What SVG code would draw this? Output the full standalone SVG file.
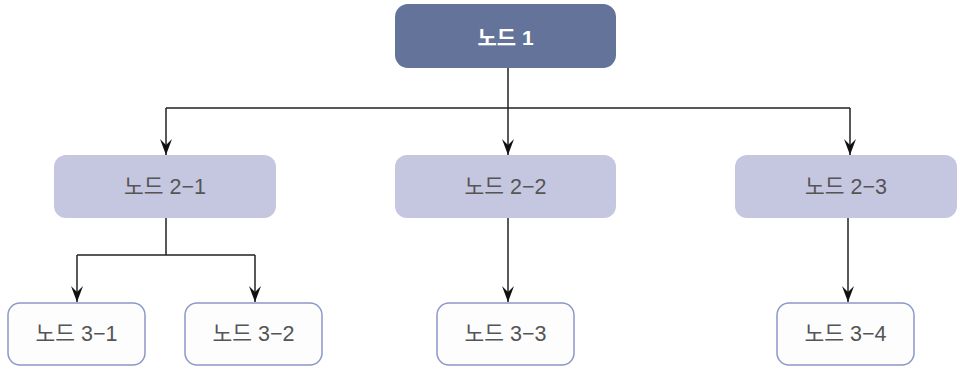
<svg xmlns="http://www.w3.org/2000/svg" width="975" height="372" viewBox="0 0 975 372">
<style>
text{font-family:"Liberation Sans","Noto Sans CJK KR",sans-serif;text-anchor:middle;dominant-baseline:central}
.l1{fill:#647399}
.l1 text{fill:#fff;font-size:21px;font-weight:bold}
.l2{fill:#c5c7e1}
.l2 text{fill:#555;font-size:21.5px}
.l3 rect{fill:#fdfdfd;stroke:#8c98c8;stroke-width:1.5}
.l3 text{fill:#555;font-size:21.5px}
.c{fill:none;stroke:#222;stroke-width:1.5}
</style>
<defs>
<marker id="arrow" viewBox="0 0 16 12" refX="16" refY="6" markerWidth="16" markerHeight="12" markerUnits="userSpaceOnUse" orient="auto">
<path d="M0,0 L16,6 L0,12 L6,6 Z" fill="#111"/>
</marker>
</defs>
<rect width="975" height="372" fill="#fff"/>
<g id="connectors">
<path class="c" d="M508,68 V108 M166,108 H850"/>
<path class="c" d="M166,108 V155" marker-end="url(#arrow)"/>
<path class="c" d="M508,108 V155" marker-end="url(#arrow)"/>
<path class="c" d="M850,108 V155" marker-end="url(#arrow)"/>
<path class="c" d="M166,218 V255 M77,255 H255"/>
<path class="c" d="M77,255 V302" marker-end="url(#arrow)"/>
<path class="c" d="M255,255 V302" marker-end="url(#arrow)"/>
<path class="c" d="M508,218 V302" marker-end="url(#arrow)"/>
<path class="c" d="M848,218 V302" marker-end="url(#arrow)"/>
</g>
<g id="n1" class="l1"><rect x="395" y="4" width="221" height="64" rx="13"/><text x="505.5" y="37">노드 1</text></g>
<g id="n2-1" class="l2"><rect x="54" y="155" width="222" height="63" rx="12"/><text x="165" y="187">노드 2−1</text></g>
<g id="n2-2" class="l2"><rect x="395" y="155" width="221" height="63" rx="12"/><text x="505.5" y="187">노드 2−2</text></g>
<g id="n2-3" class="l2"><rect x="735" y="155" width="222" height="63" rx="12"/><text x="846" y="187">노드 2−3</text></g>
<g id="n3-1" class="l3"><rect x="8" y="303" width="137" height="62" rx="12"/><text x="76.5" y="334">노드 3−1</text></g>
<g id="n3-2" class="l3"><rect x="185" y="303" width="137" height="62" rx="12"/><text x="253.5" y="334">노드 3−2</text></g>
<g id="n3-3" class="l3"><rect x="437" y="303" width="137" height="62" rx="12"/><text x="505.5" y="334">노드 3−3</text></g>
<g id="n3-4" class="l3"><rect x="777" y="303" width="137" height="62" rx="12"/><text x="845.5" y="334">노드 3−4</text></g>
</svg>
